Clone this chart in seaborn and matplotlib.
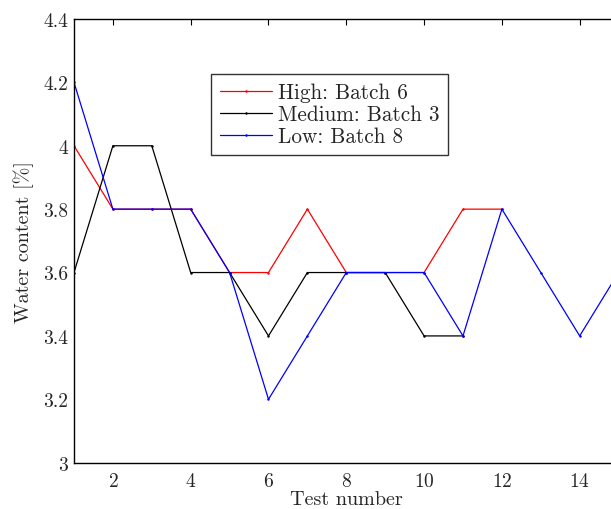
import pandas as pd
import seaborn as sns
import matplotlib.pyplot as plt

# test numbers and water content per batch
tests = list(range(1, 16))
high_batch6 = [4.0, 3.8, 3.8, 3.8, 3.6, 3.6, 3.8, 3.6, 3.6, 3.6, 3.8, 3.8]
medium_batch3 = [3.6, 4.0, 4.0, 3.6, 3.6, 3.4, 3.6, 3.6, 3.6, 3.4, 3.4]
low_batch8 = [4.2, 3.8, 3.8, 3.8, 3.6, 3.2, 3.4, 3.6, 3.6, 3.6, 3.4, 3.8, 3.6, 3.4, 3.6]

series_labels = ["High: Batch 6", "Medium: Batch 3", "Low: Batch 8"]
series_colors = ["#ff0000", "#000000", "#0000ff"]

x_ticks = [2, 4, 6, 8, 10, 12, 14]
y_ticks = [3.0, 3.2, 3.4, 3.6, 3.8, 4.0, 4.2, 4.4]
y_tick_labels = ["3", "3.2", "3.4", "3.6", "3.8", "4", "4.2", "4.4"]


def build_frame() -> pd.DataFrame:
    frames = []
    for label, values in zip(series_labels, [high_batch6, medium_batch3, low_batch8]):
        frames.append(pd.DataFrame({
            "test": tests[:len(values)],
            "water": values,
            "batch": label,
        }))
    return pd.concat(frames, ignore_index=True)


sns.set_style("white")
plt.rcParams["font.family"] = ["cmr10", "DejaVu Serif"]
plt.rcParams["axes.formatter.use_mathtext"] = True
plt.rcParams["xtick.direction"] = "in"
plt.rcParams["ytick.direction"] = "in"

df = build_frame()

fig = plt.figure(figsize=(6.11, 5.10), dpi=100)
ax = fig.add_axes([0.1211, 0.0908, 0.8913, 0.8700])

for label, color in zip(series_labels, series_colors):
    sub = df[df["batch"] == label]
    sns.lineplot(
        data=sub, x="test", y="water", color=color, label=label,
        marker=".", markersize=2, markeredgecolor=color, linewidth=0.9, ax=ax,
    )

ax.set_xlim(1, 15)
ax.set_ylim(3, 4.4)
ax.set_xticks(x_ticks)
ax.set_yticks(y_ticks)
ax.set_yticklabels(y_tick_labels)
ax.tick_params(axis="both", labelsize=14, length=4, width=0.8, color="black",
               top=True, right=True)
ax.tick_params(axis="y", pad=4)
ax.tick_params(axis="x", pad=7)
for spine in ax.spines.values():
    spine.set_visible(True)
    spine.set_color("black")
    spine.set_linewidth(1.0)

ax.set_xlabel("Test number", fontsize=14.5, labelpad=0)
ax.set_ylabel("Water content [%]", fontsize=14.5, labelpad=7)

leg = ax.legend(
    loc="upper left", bbox_to_anchor=(0.2516, 0.876), borderaxespad=0,
    fontsize=15.3, frameon=True, fancybox=False, edgecolor="black",
    handlelength=2.45, handletextpad=0.3, labelspacing=0.12, borderpad=0.4,
)
leg.get_frame().set_linewidth(1.0)

fig.savefig("out.png", dpi=100)
